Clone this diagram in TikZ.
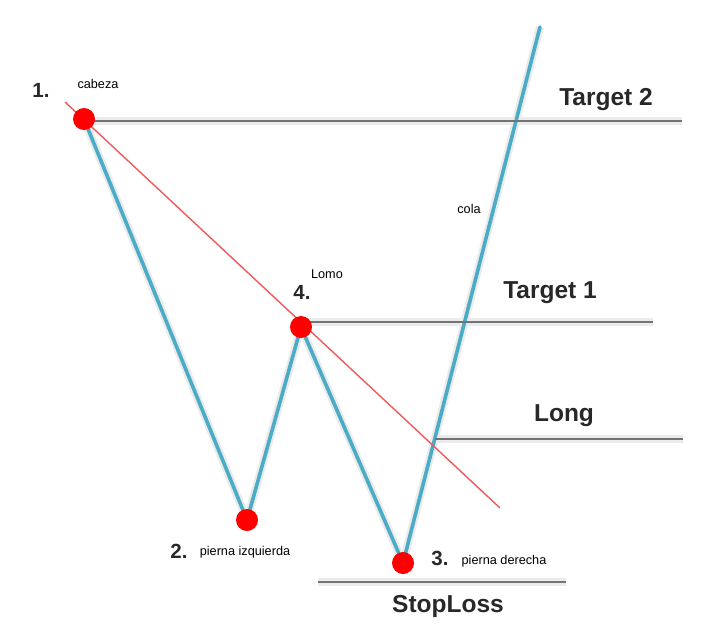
\documentclass[tikz,border=0pt]{standalone}
\usepackage{fontspec}
\setmainfont{Liberation Sans}
\begin{document}
\begin{tikzpicture}[x=1pt,y=-1pt,
  blueline/.style={draw={rgb,255:red,74;green,172;blue,198},line width=3.6pt,line join=round,line cap=round},
  shadowline/.style={draw=black!8,line width=8pt,line join=round},
  redline/.style={draw={rgb,255:red,240;green,90;blue,90},line width=1.4pt},
  level/.style={draw={rgb,255:red,115;green,115;blue,115},line width=2pt},
  dot/.style={circle,fill={rgb,255:red,255;green,0;blue,0},minimum size=22pt,inner sep=0pt},
  big/.style={font=\fontsize{24.5}{26}\selectfont\bfseries,text={rgb,255:red,40;green,40;blue,40},inner sep=0pt},
  num/.style={font=\fontsize{20.5}{22}\selectfont\bfseries,text={rgb,255:red,40;green,40;blue,40},inner sep=0pt},
  small/.style={font=\fontsize{12.7}{14}\selectfont,text=black,inner sep=0pt}]
\useasboundingbox[fill=white] (0,0) rectangle (714,629);
% key points
\coordinate (c1) at (84,119);
\coordinate (c2) at (247,520);
\coordinate (c4) at (301,327);
\coordinate (c3) at (403,563);
\coordinate (top) at (540,27);
\coordinate (r0) at (65,102);
\coordinate (r1) at (500,508);
\coordinate (t2e) at (682,121);
\coordinate (t1e) at (653,322);
\coordinate (lgs) at (435,439);
\coordinate (lge) at (683,439);
\coordinate (sls) at (318,582);
\coordinate (sle) at (566,582);
% shadows
\begin{scope}[shift={(7,5)}]
\draw[shadowline] (c1) -- (c2) -- (c4) -- (c3) -- (top);
\draw[shadowline] (c1 |- t2e) -- (t2e);
\draw[shadowline] (c4 |- t1e) -- (t1e);
\draw[shadowline] (lgs) -- (lge);
\draw[shadowline] (sls) -- (sle);
\end{scope}
% price path
\draw[blueline] (c1) -- (c2) -- (c4) -- (c3) -- (top);
% levels
\draw[level] (c1 |- t2e) -- (t2e);
\draw[level] (c4 |- t1e) -- (t1e);
\draw[level] (lgs) -- (lge);
\draw[level] (sls) -- (sle);
% trend line
\draw[redline] (r0) -- (r1);
% dots
\node[dot] (d1) at (c1) {};
\node[dot] (d2) at (c2) {};
\node[dot] (d4) at (c4) {};
\node[dot] (d3) at (c3) {};
% labels
\node[num] (n1) at (41,90) {1.};
\node[small] (l1) at (98,84) {cabeza};
\node[big] (t2) at (606,100) {Target 2};
\node[small] (lc) at (469,209) {cola};
\node[small] (l4) at (327,274) {Lomo};
\node[num] (n4) at (302,292) {4.};
\node[big] (t1) at (550,293) {Target 1};
\node[big] (lg) at (564,416) {Long};
\node[num] (n2) at (179,551) {2.};
\node[small] (l2) at (245,552) {pierna izquierda};
\node[num] (n3) at (440,558) {3.};
\node[small] (l3) at (504,561) {pierna derecha};
\node[big] (sl) at (448,606) {StopLoss};
\end{tikzpicture}
\end{document}
